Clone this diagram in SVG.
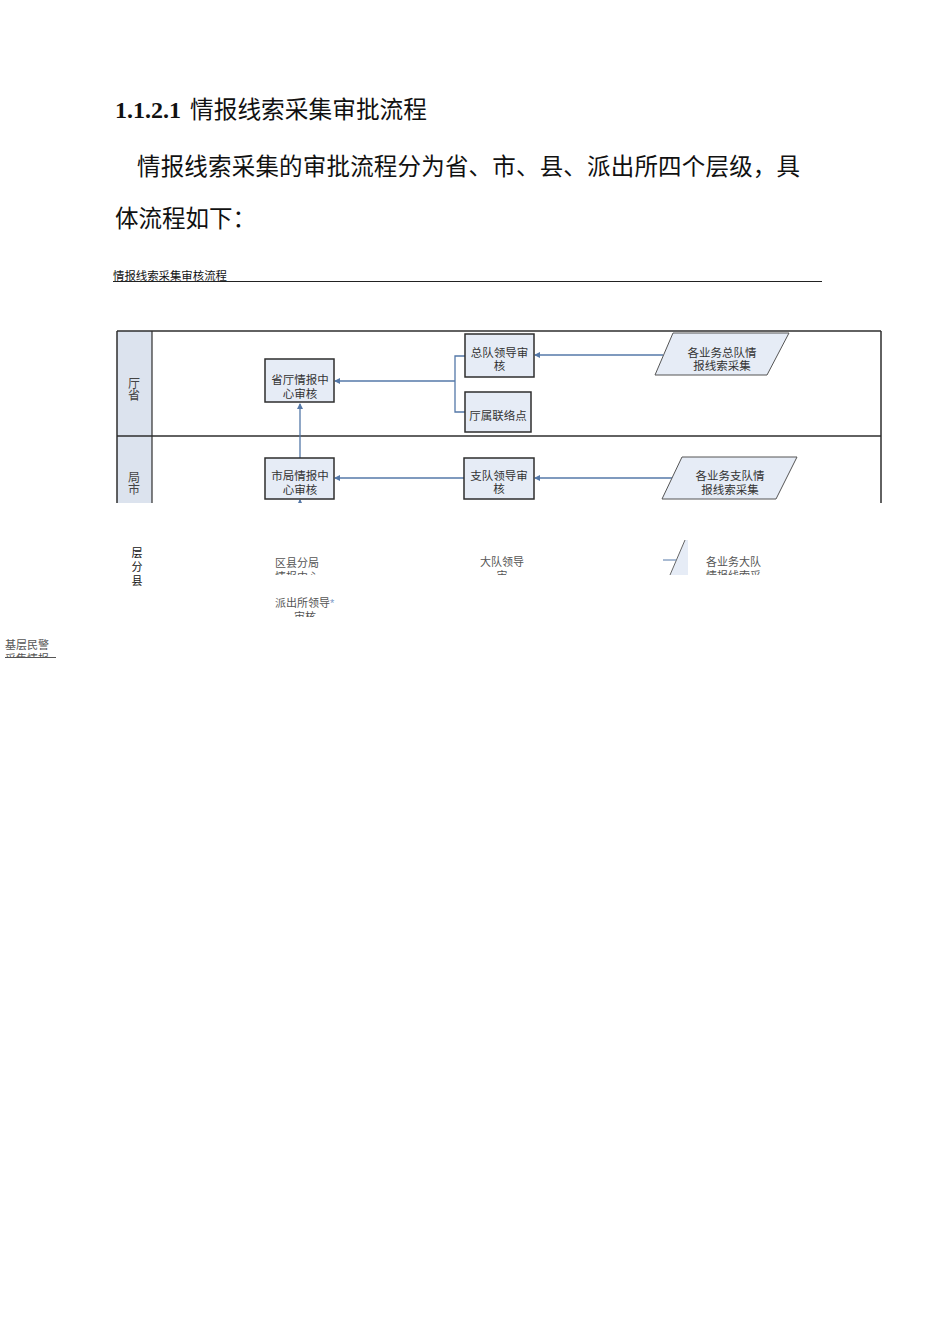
<svg xmlns="http://www.w3.org/2000/svg" width="950" height="1344" viewBox="0 0 950 1344">
<style>
.doc{font-family:"Liberation Serif","Noto Sans CJK SC",serif;fill:#111}
.lbl{font-family:"Liberation Serif","Noto Sans CJK SC",serif;font-size:11.5px;fill:#333;text-anchor:middle}
.lane{font-family:"Liberation Serif","Noto Sans CJK SC",serif;font-size:12px;fill:#444;text-anchor:middle}
.box{fill:#e6ecf6;stroke:#2e2e2e;stroke-width:1.5}
.para{fill:#e6ecf6;stroke:#555;stroke-width:1}
.con{fill:none;stroke:#5478a8;stroke-width:1.3}
.frag{font-family:"Liberation Sans","Noto Sans CJK SC",sans-serif;font-size:11px;fill:#555}
</style>
<defs>
<marker id="arr" markerWidth="6" markerHeight="6" refX="5" refY="3" orient="auto" markerUnits="userSpaceOnUse">
<path d="M0,0 L6,3 L0,6 Z" fill="#5478a8"/>
</marker>
<clipPath id="clipDiag"><rect x="0" y="0" width="950" height="503"/></clipPath>
<clipPath id="cl1"><rect x="0" y="0" width="950" height="575"/></clipPath>
<clipPath id="cl2"><rect x="0" y="0" width="950" height="617"/></clipPath>
<clipPath id="cl3"><rect x="0" y="0" width="950" height="658"/></clipPath>
</defs>
<rect width="950" height="1344" fill="#ffffff"/>

<g id="heading">
<text class="doc" x="115" y="118" font-size="24" font-weight="bold">1.1.2.1</text>
<text class="doc" x="190" y="118" font-size="23.7" textLength="237" lengthAdjust="spacing">情报线索采集审批流程</text>
<text class="doc" x="137" y="175" font-size="23.5" textLength="663" lengthAdjust="spacing">情报线索采集的审批流程分为省、市、县、派出所四个层级，具</text>
<text class="doc" x="115" y="227" font-size="23.5">体流程如下：</text>
<text class="doc" x="113" y="280" font-size="11.4" fill="#333">情报线索采集审核流程</text>
<line x1="113" y1="281.5" x2="822" y2="281.5" stroke="#222" stroke-width="1"/>
</g>

<g id="diagram" clip-path="url(#clipDiag)">
<g id="lanes">
<rect x="117" y="331" width="35" height="200" fill="#dce3ee"/>
<line x1="117" y1="331" x2="881" y2="331" stroke="#2e2e2e" stroke-width="1.5"/>
<line x1="117" y1="436" x2="881" y2="436" stroke="#2e2e2e" stroke-width="1.5"/>
<line x1="117" y1="331" x2="117" y2="531" stroke="#2e2e2e" stroke-width="1.5"/>
<line x1="152" y1="331" x2="152" y2="531" stroke="#2e2e2e" stroke-width="1.2"/>
<line x1="881" y1="331" x2="881" y2="531" stroke="#2e2e2e" stroke-width="1.5"/>
<text class="lane" x="134" y="388">厅</text>
<text class="lane" x="134" y="400">省</text>
<text class="lane" x="134" y="482">局</text>
<text class="lane" x="134" y="494">市</text>
</g>

<g id="connectors">
<path class="con" d="M663,355 H535" marker-end="url(#arr)"/>
<path class="con" d="M465,356 H455 V412 H465"/>
<path class="con" d="M455,381 H335" marker-end="url(#arr)"/>
<path class="con" d="M300,458 V404" marker-end="url(#arr)"/>
<path class="con" d="M673,478 H535" marker-end="url(#arr)"/>
<path class="con" d="M464,478 H335" marker-end="url(#arr)"/>
<path class="con" d="M300,530 V500" marker-end="url(#arr)"/>
</g>

<g id="n-sheng">
<rect class="box" x="265" y="359" width="69" height="43"/>
<text class="lbl" x="300" y="383.5">省厅情报中</text>
<text class="lbl" x="300" y="397.5">心审核</text>
</g>
<g id="n-zongdui">
<rect class="box" x="465" y="334" width="69" height="43"/>
<text class="lbl" x="499.5" y="357">总队领导审</text>
<text class="lbl" x="499.5" y="370">核</text>
</g>
<g id="n-tingshu">
<rect class="box" x="465" y="392" width="66" height="40"/>
<text class="lbl" x="498" y="419.5">厅属联络点</text>
</g>
<g id="n-zongdui-src">
<polygon class="para" points="673,333 789,333 767,375 655,375"/>
<text class="lbl" x="722" y="357">各业务总队情</text>
<text class="lbl" x="722" y="370">报线索采集</text>
</g>
<g id="n-shiju">
<rect class="box" x="265" y="458" width="69" height="41"/>
<text class="lbl" x="300" y="480">市局情报中</text>
<text class="lbl" x="300" y="494">心审核</text>
</g>
<g id="n-zhidui">
<rect class="box" x="464" y="458" width="70" height="41"/>
<text class="lbl" x="499" y="480">支队领导审</text>
<text class="lbl" x="499" y="493">核</text>
</g>
<g id="n-zhidui-src">
<polygon class="para" points="682,457 797,457 776,499 662,499"/>
<text class="lbl" x="730" y="480">各业务支队情</text>
<text class="lbl" x="730" y="494">报线索采集</text>
</g>
</g>

<g id="fragments">
<g id="f-xian">
<text x="137" y="557" font-family="Liberation Sans,Noto Sans CJK SC,sans-serif" font-size="11" fill="#111" text-anchor="middle">层</text>
<text x="137" y="571" font-family="Liberation Sans,Noto Sans CJK SC,sans-serif" font-size="11" fill="#111" text-anchor="middle">分</text>
<text x="137" y="585" font-family="Liberation Sans,Noto Sans CJK SC,sans-serif" font-size="11" fill="#111" text-anchor="middle">县</text>
</g>
<g id="f-quxian" clip-path="url(#cl1)">
<text class="frag" x="275" y="567">区县分局</text>
<text class="frag" x="275" y="581">情报中心</text>
</g>
<g id="f-dadui" clip-path="url(#cl1)">
<text class="frag" x="480" y="566">大队领导</text>
<text class="frag" x="502" y="580" text-anchor="middle">审</text>
</g>
<g id="f-dadui-src" clip-path="url(#cl1)">
<polygon points="685,540 688,540 688,582 667,582" fill="#e6ecf6"/>
<line x1="685" y1="540" x2="667" y2="582" stroke="#666" stroke-width="1"/>
<line x1="663" y1="560" x2="676" y2="560" stroke="#5478a8" stroke-width="1"/>
<text class="frag" x="706" y="566">各业务大队</text>
<text class="frag" x="706" y="580">情报线索采</text>
</g>
<g id="f-paichusuo" clip-path="url(#cl2)">
<text class="frag" x="275" y="607">派出所领导<tspan fill="#7d9cc8">*</tspan></text>
<text class="frag" x="305" y="621" text-anchor="middle">审核</text>
</g>
<g id="f-minjing" clip-path="url(#cl3)">
<text class="frag" x="5" y="649">基层民警</text>
<text class="frag" x="5" y="663">采集情报</text>
<line x1="5" y1="657.5" x2="56" y2="657.5" stroke="#555" stroke-width="1"/>
</g>
</g>
</svg>
